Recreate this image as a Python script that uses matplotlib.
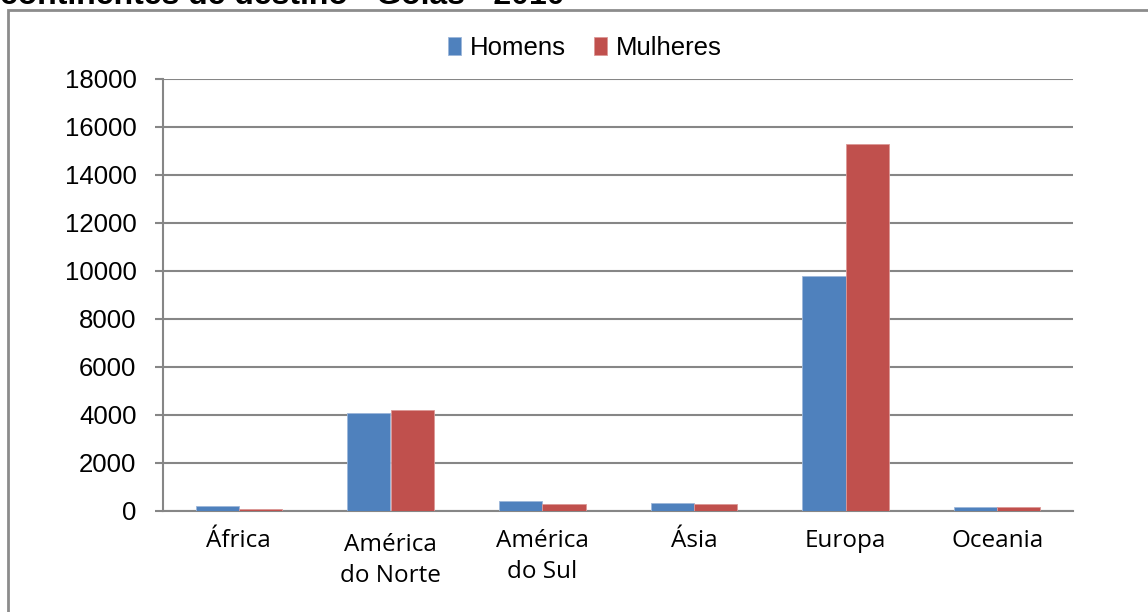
import matplotlib
matplotlib.use("Agg")
import matplotlib.pyplot as plt
import numpy as np
from matplotlib.patches import Rectangle
import matplotlib.transforms as mtransforms

categories = ["África", "América\ndo Norte", "América\ndo Sul", "Ásia", "Europa", "Oceania"]
homens = [210, 4100, 420, 340, 9800, 170]
mulheres = [80, 4200, 300, 300, 15300, 150]
series_names = ["Homens", "Mulheres"]
yticks = [0, 2000, 4000, 6000, 8000, 10000, 12000, 14000, 16000, 18000]
title = "continentes de destino - Goiás - 2010"

blue = "#4F81BD"
red = "#C0504D"
grid_c = "#868686"

fig = plt.figure(figsize=(11.48, 6.12), dpi=100)
ax = fig.add_axes([163/1148, 1-511/612, (1073-163)/1148, (511-79)/612])

x = np.arange(len(categories))
w = 1/3.5
ax.bar(x - w/2, homens, width=w, color=blue, edgecolor="#9DB7DA", linewidth=0.6, label=series_names[0], zorder=3)
ax.bar(x + w/2, mulheres, width=w, color=red, edgecolor="#DC9896", linewidth=0.6, label=series_names[1], zorder=3)

ax.set_xlim(-0.5, len(categories) - 0.5)
ax.set_ylim(0, 18000)
ax.set_yticks(yticks)
ax.set_yticklabels([str(v) for v in yticks], fontsize=18.5, family="Liberation Sans")
ax.yaxis.grid(True, color=grid_c, linewidth=1.5, zorder=0)
ax.set_axisbelow(True)
for s in ["top", "right"]:
    ax.spines[s].set_visible(False)
ax.spines["left"].set_color(grid_c)
ax.spines["left"].set_linewidth(1.5)
ax.spines["bottom"].set_color(grid_c)
ax.spines["bottom"].set_linewidth(1.5)
ax.tick_params(axis="y", direction="out", length=6, width=1.5, color=grid_c, pad=13)
ax.tick_params(axis="x", length=0, pad=13)
ax.set_xticks(x)
ax.set_xticklabels(categories, fontsize=17.5, family="Open Sans", linespacing=1.4)
lbl = ax.get_xticklabels()[1]
lbl.set_transform(lbl.get_transform() + mtransforms.ScaledTranslation(0, -4/100, fig.dpi_scale_trans))

leg = fig.legend(loc="center", bbox_to_anchor=(585/1148, 1 - 48/612), ncol=2, frameon=False,
                 prop={"family": "Liberation Sans", "size": 18.5},
                 handlelength=0.5, handleheight=0.7, handletextpad=0.35, columnspacing=1.1)

# outer chart border (partially cropped)
fig.patches.append(Rectangle((8/1148, -0.1), 1.2, 1 - 10/612 + 0.1, transform=fig.transFigure,
                             fill=False, edgecolor="#8C8C8C", linewidth=2, clip_on=False))

fig.text(0.0, 1 - 4/612, title, fontsize=23, fontweight="bold", family="Liberation Sans",
         ha="left", va="baseline")

fig.savefig("out.png", dpi=100)
